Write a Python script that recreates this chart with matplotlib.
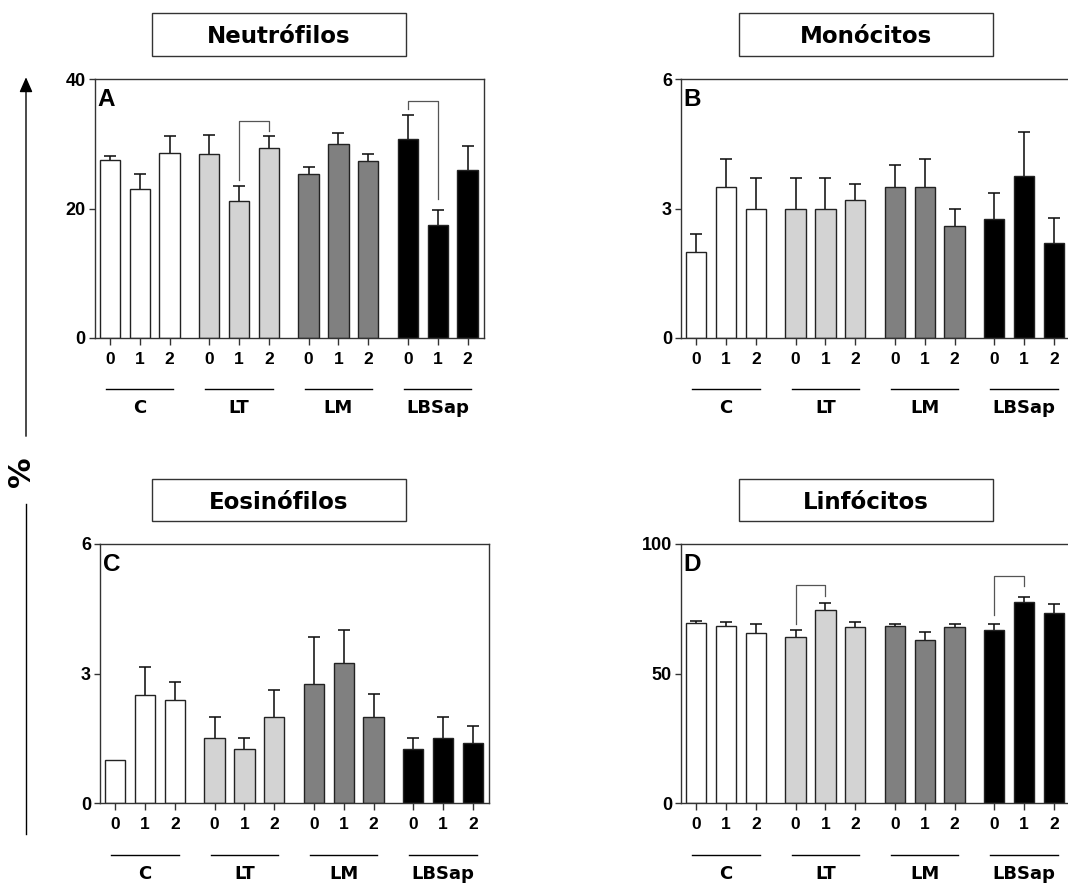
import matplotlib
matplotlib.use('Agg')
import matplotlib.pyplot as plt
from matplotlib.patches import Rectangle, FancyArrowPatch
import numpy as np

# data (mean + SEM), order: C0 C1 C2 LT0 LT1 LT2 LM0 LM1 LM2 LBSap0 LBSap1 LBSap2
groups = ['C', 'LT', 'LM', 'LBSap']
times = ['0', '1', '2']

neut_mean = [27.5, 23.0, 28.6, 28.5, 21.2, 29.4, 25.3, 30.0, 27.4, 30.8, 17.5, 26.0]
neut_sem = [0.7, 2.3, 2.6, 2.9, 2.3, 1.8, 1.2, 1.7, 1.1, 3.6, 2.2, 3.7]
mono_mean = [2.0, 3.5, 3.0, 3.0, 3.0, 3.2, 3.5, 3.5, 2.6, 2.75, 3.75, 2.2]
mono_sem = [0.4, 0.65, 0.7, 0.7, 0.7, 0.37, 0.5, 0.65, 0.4, 0.62, 1.02, 0.58]
eos_mean = [1.0, 2.5, 2.4, 1.5, 1.25, 2.0, 2.75, 3.25, 2.0, 1.25, 1.5, 1.4]
eos_sem = [0.0, 0.65, 0.4, 0.5, 0.25, 0.63, 1.1, 0.75, 0.54, 0.25, 0.5, 0.38]
linf_mean = [69.4, 68.5, 65.6, 64.1, 74.4, 68.0, 68.3, 63.1, 68.1, 66.9, 77.7, 73.5]
linf_sem = [0.9, 1.4, 3.5, 2.6, 2.8, 1.9, 0.9, 2.8, 1.0, 2.2, 1.8, 3.2]

# significance brackets: (bar i, bar j, top, left leg end, right leg end)
neut_brackets = [(4, 5, 33.6, 24.4, 32.0), (9, 10, 36.7, 35.4, 21.5)]
linf_brackets = [(3, 4, 84.0, 69.0, 79.8), (9, 10, 87.5, 72.5, 83.7)]

group_colors = ['white', '#d3d3d3', '#808080', 'black']
edge_col = '#222222'
tick_font = 'Liberation Sans'
label_font = 'DejaVu Sans'

W, H = 1068, 884
fig = plt.figure(figsize=(W / 100, H / 100), dpi=100)


def px_axes(left, top, width, height):
    return fig.add_axes([left / W, 1 - (top + height) / H, width / W, height / H])


def panel(ax, means, sems, yticks, letter, brackets=()):
    gap = 1 / 3
    x = np.array([g * (3 + gap) + i for g in range(4) for i in range(3)])
    colors = [group_colors[g] for g in range(4) for i in range(3)]
    means = np.array(means)
    sems = np.array(sems)
    has_err = sems > 0  # no bar drawn where SEM is zero
    ax.errorbar(x[has_err], means[has_err], yerr=sems[has_err], fmt='none', ecolor='#111111',
                elinewidth=1.15, capsize=4, capthick=1.15, zorder=1)
    ax.bar(x, means, width=0.68, color=colors, edgecolor=edge_col, linewidth=1.0, zorder=2)
    ax.set_xlim(-0.51, 12.54)
    ax.set_ylim(0, yticks[-1])
    ax.set_yticks(yticks)
    ax.set_xticks(x)
    ax.set_xticklabels(times * 4)
    ax.tick_params(axis='x', direction='out', length=5, width=1.0, pad=5, color='#333333')
    ax.tick_params(axis='y', direction='out', length=4.5, width=1.0, pad=2, color='#333333')
    for lab in ax.get_xticklabels():
        lab.set_fontfamily(tick_font)
        lab.set_fontweight('bold')
        lab.set_fontsize(12.5)
    for lab in ax.get_yticklabels():
        lab.set_fontfamily(tick_font)
        lab.set_fontweight('bold')
        lab.set_fontsize(13)
    for sp in ax.spines.values():
        sp.set_color('#333333')
        sp.set_linewidth(1.0)
    trans = ax.get_xaxis_transform()
    for g, name in enumerate(groups):
        c = g * (3 + gap) + 1
        ax.plot([c - 1.13, c + 1.13], [-0.2, -0.2], color='black', lw=1.0,
                transform=trans, clip_on=False)
        ax.text(c, -0.273, name, transform=trans, ha='center', va='center',
                fontsize=13, fontweight='bold', family=label_font)
    for i, j, top, yl, yr in brackets:
        ax.plot([x[i], x[i], x[j], x[j]], [yl, top, top, yr], color='#555555', lw=0.9, zorder=3)
    ax.text(0.007, 0.895, letter, transform=ax.transAxes, fontsize=17.5,
            fontweight='bold', family=tick_font, va='baseline', ha='left')


def title_box(left, top, text):
    width, height = 254, 42.4
    fig.patches.append(Rectangle((left / W, 1 - (top + height) / H), width / W, height / H,
                                 transform=fig.transFigure, facecolor='white',
                                 edgecolor='#333333', linewidth=1.0))
    fig.text((left + width / 2) / W, 1 - (top + height / 2 + 8.7) / H, text,
             ha='center', va='baseline', fontsize=16.5, fontweight='bold', family=label_font)


axA = px_axes(94.7, 79.3, 389, 258.4)
axB = px_axes(681, 79.3, 389, 258.4)
axC = px_axes(100, 544, 389, 259.3)
axD = px_axes(681, 544, 389, 259.3)

panel(axA, neut_mean, neut_sem, [0, 20, 40], 'A', neut_brackets)
panel(axB, mono_mean, mono_sem, [0, 3, 6], 'B')
panel(axC, eos_mean, eos_sem, [0, 3, 6], 'C')
panel(axD, linf_mean, linf_sem, [0, 50, 100], 'D', linf_brackets)

title_box(152, 13.3, 'Neutrófilos')
title_box(739, 13.3, 'Monócitos')
title_box(152, 479, 'Eosinófilos')
title_box(739, 479, 'Linfócitos')

# shared y label with arrow
ax_x = 26 / W
fig.patches.append(FancyArrowPatch((ax_x, 1 - 439 / H), (ax_x, 1 - 74.5 / H),
                                   transform=fig.transFigure, arrowstyle='-|>,head_length=0.5,head_width=0.22',
                                   mutation_scale=18, color='black', lw=1.0))
fig.add_artist(plt.Line2D([ax_x, ax_x], [1 - 504 / H, 1 - 834 / H], color='black', lw=1.0,
                          transform=fig.transFigure))
fig.text(22 / W, 1 - 472 / H, '%', rotation=90, ha='center', va='center',
         fontsize=22, fontweight='bold', family=label_font)

fig.savefig('out.png', dpi=100)
